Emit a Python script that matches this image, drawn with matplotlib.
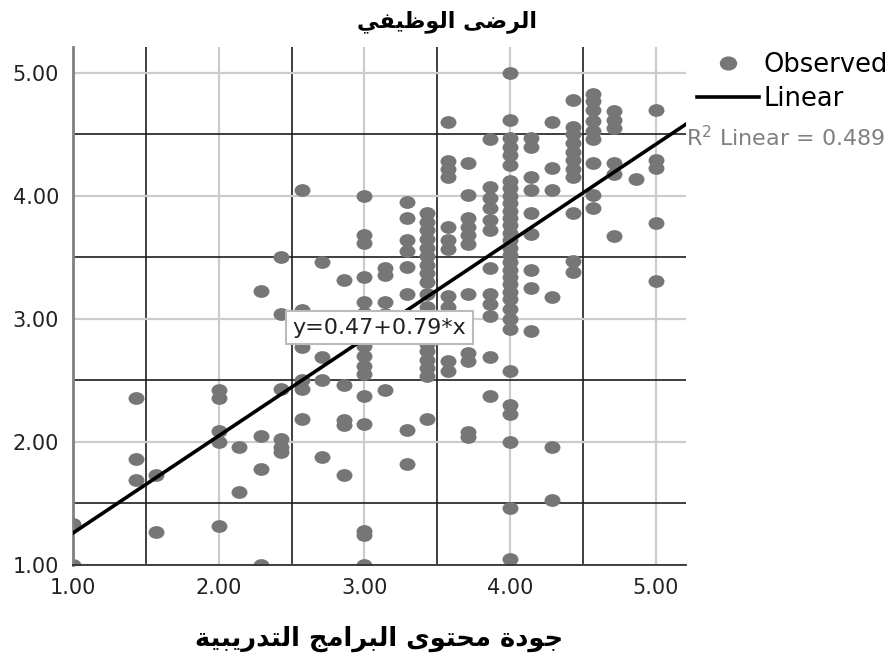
import numpy as np
import matplotlib.pyplot as plt
from matplotlib.path import Path
from matplotlib.lines import Line2D

# Arabic labels
title_text = 'الرضى الوظيفي'
xlabel_text = 'جودة محتوى البرامج التدريبية'

# regression results
intercept = 0.47
slope = 0.79
r_squared = 0.489

# x positions of the score columns and the y scores found at each one
column_x = [1.00, 1.43, 1.57, 2.00, 2.14, 2.29, 2.43, 2.57, 2.71, 2.86,
            3.00, 3.14, 3.29, 3.43, 3.57, 3.71, 3.86, 4.00, 4.14, 4.29,
            4.43, 4.57, 4.71, 4.86, 5.00]
column_y = [
    [1.00, 1.33],
    [2.36, 1.86, 1.69],
    [1.73, 1.27],
    [2.42, 2.36, 2.09, 2.00, 1.32],
    [1.96, 1.59],
    [3.23, 2.05, 1.78, 1.00],
    [3.50, 3.04, 2.43, 2.02, 1.96, 1.92],
    [4.05, 3.07, 2.77, 2.50, 2.43, 2.19],
    [3.46, 2.69, 2.50, 1.88],
    [3.32, 2.46, 2.18, 2.14, 1.73],
    [4.00, 3.68, 3.62, 3.34, 3.14, 3.05, 2.95, 2.86, 2.78, 2.70, 2.62, 2.55,
     2.37, 2.15, 1.28, 1.24, 1.00],
    [3.41, 3.36, 3.14, 3.04, 2.42],
    [3.95, 3.82, 3.64, 3.55, 3.42, 3.20, 2.10, 1.82],
    [3.86, 3.79, 3.72, 3.65, 3.58, 3.51, 3.44, 3.37, 3.30, 3.20, 3.10, 3.00,
     2.90, 2.80, 2.74, 2.67, 2.60, 2.54, 2.19],
    [4.60, 4.28, 4.22, 4.15, 3.75, 3.64, 3.57, 3.19, 3.10, 3.00, 2.90, 2.66, 2.58],
    [4.27, 4.01, 3.82, 3.75, 3.68, 3.61, 3.20, 2.72, 2.66, 2.08, 2.04],
    [4.46, 4.07, 3.98, 3.90, 3.80, 3.72, 3.41, 3.20, 3.12, 3.02, 2.69, 2.37],
    [5.00, 4.62, 4.47, 4.40, 4.33, 4.25, 4.12, 4.06, 4.00, 3.94, 3.88, 3.82,
     3.76, 3.70, 3.64, 3.58, 3.52, 3.46, 3.40, 3.34, 3.28, 3.22, 3.16, 3.08,
     3.00, 2.92, 2.58, 2.30, 2.23, 2.00, 1.46, 1.05],
    [4.47, 4.40, 4.15, 4.05, 3.86, 3.69, 3.40, 3.25, 2.90],
    [4.60, 4.23, 4.05, 3.18, 1.96, 1.53],
    [4.78, 4.56, 4.50, 4.43, 4.36, 4.29, 4.22, 4.15, 3.86, 3.47, 3.38],
    [4.83, 4.77, 4.70, 4.61, 4.53, 4.46, 4.27, 4.01, 3.90],
    [4.69, 4.62, 4.55, 4.27, 4.18, 3.67],
    [4.14],
    [4.70, 4.29, 4.23, 3.78, 3.31],
]

tick_values = [1, 2, 3, 4, 5]
half_values = [1.5, 2.5, 3.5, 4.5]

# contextual forms (isolated, final, initial, medial); two-form letters only join on the right
FORMS = {
    'ا': ('\uFE8D', '\uFE8E'),
    'ب': ('\uFE8F', '\uFE90', '\uFE91', '\uFE92'),
    'ة': ('\uFE93', '\uFE94'),
    'ت': ('\uFE95', '\uFE96', '\uFE97', '\uFE98'),
    'ج': ('\uFE9D', '\uFE9E', '\uFE9F', '\uFEA0'),
    'ح': ('\uFEA1', '\uFEA2', '\uFEA3', '\uFEA4'),
    'د': ('\uFEA9', '\uFEAA'),
    'ر': ('\uFEAD', '\uFEAE'),
    'ض': ('\uFEBD', '\uFEBE', '\uFEBF', '\uFEC0'),
    'ظ': ('\uFEC5', '\uFEC6', '\uFEC7', '\uFEC8'),
    'ف': ('\uFED1', '\uFED2', '\uFED3', '\uFED4'),
    'ل': ('\uFEDD', '\uFEDE', '\uFEDF', '\uFEE0'),
    'م': ('\uFEE1', '\uFEE2', '\uFEE3', '\uFEE4'),
    'و': ('\uFEED', '\uFEEE'),
    'ى': ('\uFEEF', '\uFEF0'),
    'ي': ('\uFEF1', '\uFEF2', '\uFEF3', '\uFEF4'),
}


def shape_arabic(text):
    # matplotlib has no text shaping, so pick the joined glyphs by hand
    # and flip the string into visual (left-to-right) order
    out = []
    for i, ch in enumerate(text):
        f = FORMS.get(ch)
        if f is None:
            out.append(ch)
            continue
        prev = text[i - 1] if i > 0 else ''
        nxt = text[i + 1] if i + 1 < len(text) else ''
        join_prev = prev in FORMS and len(FORMS[prev]) == 4
        join_next = len(f) == 4 and nxt in FORMS
        if join_prev and join_next:
            out.append(f[3])
        elif join_prev:
            out.append(f[1])
        elif join_next:
            out.append(f[2])
        else:
            out.append(f[0])
    return ''.join(reversed(out))


x = np.concatenate([[cx] * len(ys) for cx, ys in zip(column_x, column_y)])
y = np.concatenate(column_y)

plt.rcParams['font.family'] = ['DejaVu Sans']

fig = plt.figure(figsize=(8.95, 6.61), dpi=100)
ax = fig.add_axes([73 / 895, 1 - 565 / 661, 613 / 895, 518 / 661])

# slightly wide dots
circle = Path.unit_circle()
dot = Path(circle.vertices * [1.25, 1.0], circle.codes)

ax.scatter(x, y, marker=dot, s=132, color='#767676', linewidths=0, zorder=2)

ax.set_xlim(1, 5.206)
ax.set_ylim(1, 5.21)

xl = np.array(ax.get_xlim())
ax.plot(xl, intercept + slope * xl, color='black', lw=2.6, zorder=3)

ax.set_xticks(tick_values)
ax.set_xticks(half_values, minor=True)
ax.set_yticks(tick_values)
ax.set_yticks(half_values, minor=True)
ax.set_xticklabels([f'{v:.2f}' for v in tick_values])
ax.set_yticklabels([f'{v:.2f}' for v in tick_values])
ax.tick_params(which='both', length=0, labelsize=15, colors='#222222')
ax.tick_params(axis='x', pad=9)
ax.tick_params(axis='y', pad=10)

ax.grid(which='major', color='#cccccc', lw=1.6)
ax.grid(which='minor', color='#1e1e1e', lw=1.2)
ax.set_axisbelow(True)

for side in ['top', 'right']:
    ax.spines[side].set_visible(False)
ax.spines['left'].set_color('#808080')
ax.spines['left'].set_linewidth(2)
ax.spines['bottom'].set_color('#333333')
ax.spines['bottom'].set_linewidth(1.3)

ax.text(3.1, 2.93, f'y={intercept:.2f}+{slope:.2f}*x', ha='center', va='center',
        fontsize=16, color='#222222', zorder=4,
        bbox=dict(boxstyle='square,pad=0.3', facecolor='white', edgecolor='#bbbbbb', lw=1.5))

ax.annotate(f'R$^2$ Linear = {r_squared:.3f}', xy=(xl[1], intercept + slope * xl[1]),
            xytext=(0, -10), textcoords='offset points', ha='left', va='center',
            fontsize=16, color='#808080', annotation_clip=False)

handles = [
    Line2D([], [], marker=dot, markersize=11.5, color='#767676', lw=0),
    Line2D([], [], color='black', lw=2.6),
]
fig.legend(handles, ['Observed', 'Linear'], loc='upper left',
           bbox_to_anchor=(697 / 895, 1 - 52 / 661), frameon=False,
           fontsize=18.5, handlelength=2.4, handletextpad=0.2,
           labelspacing=0.3, borderpad=0, borderaxespad=0)

fig.text(0.5, 1 - 22 / 661, shape_arabic(title_text), ha='center', va='center',
         fontsize=16, fontweight='bold')
ax.set_xlabel(shape_arabic(xlabel_text), fontsize=18.5, fontweight='bold', labelpad=20)

fig.savefig('out.png', dpi=100)
